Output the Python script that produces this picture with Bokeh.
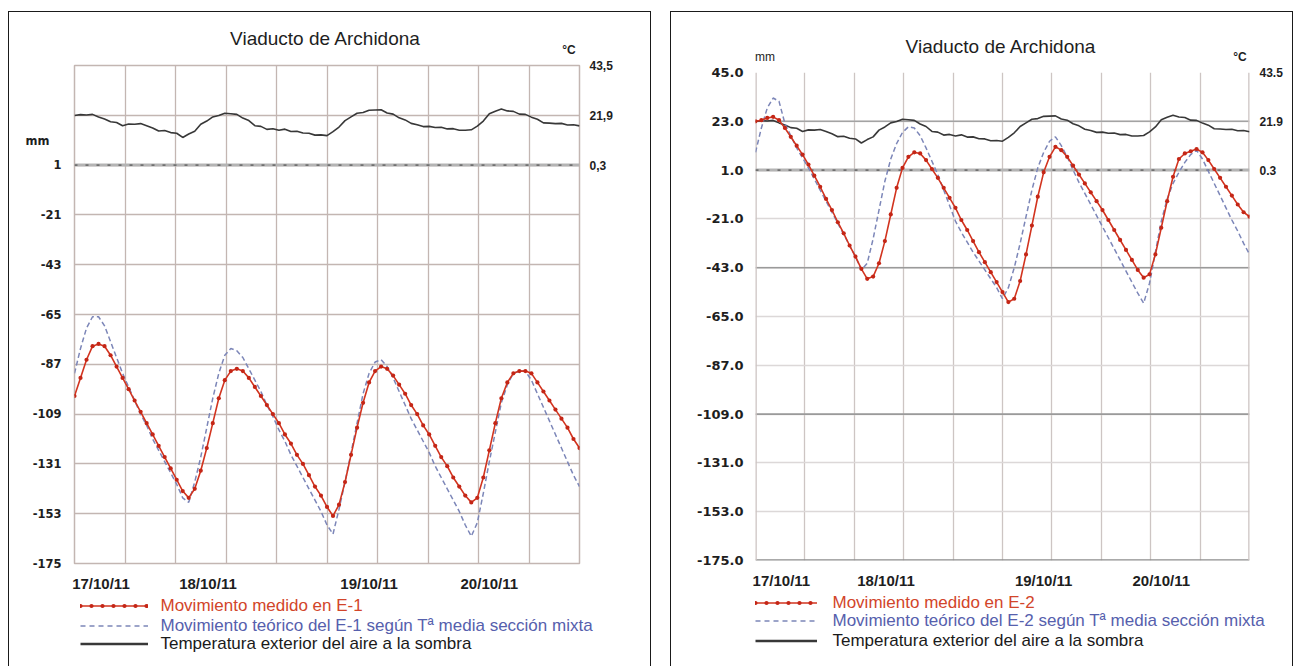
from bokeh.plotting import figure
from bokeh.models import (Range1d, LinearAxis, FixedTicker, CustomJSTickFormatter,
                          Span, Label, Legend, LegendItem, ColumnDataSource, Spacer)
from bokeh.layouts import row, column
from bokeh.embed import file_html
from bokeh.resources import INLINE

# ---- data: hourly readings, 17/10/11 00h onwards -------------------------
hours = list(range(85))

# outside air temperature in the shade (degC)
temp_air = [21.8, 22.2, 22.0, 22.3, 21.2, 20.3, 19.1, 18.8, 17.4, 18.1,
            18.0, 18.3, 17.4, 16.4, 15.1, 15.3, 14.4, 14.1, 12.3, 13.8,
            15.0, 18.0, 19.4, 21.2, 21.8, 22.8, 22.6, 22.3, 20.7, 19.6,
            17.4, 17.1, 15.8, 16.1, 15.4, 15.9, 14.9, 15.0, 14.2, 14.1,
            13.3, 13.4, 13.1, 14.8, 16.8, 19.6, 21.2, 22.8, 23.1, 24.1,
            24.2, 24.3, 22.9, 22.4, 20.8, 19.9, 18.4, 17.8, 17.0, 17.1,
            16.6, 16.7, 16.0, 16.1, 15.4, 15.4, 15.6, 17.2, 19.4, 22.6,
            23.7, 24.6, 23.8, 23.6, 22.4, 22.3, 21.1, 20.2, 18.6, 18.5,
            18.3, 18.4, 17.7, 17.8, 17.3]

# joint E-1 (mm)
e1_measured = [-101, -93, -85, -79, -78, -79, -83, -88, -93, -98,
               -103, -108, -113, -118, -123, -128, -133, -138, -143, -146,
               -142, -134, -124, -113, -102, -94, -90, -89, -90, -93,
               -97, -101, -105, -109, -113, -118, -122, -127, -131, -136,
               -141, -145, -150, -154, -149, -139, -127, -115, -104, -95,
               -90, -88, -89, -92, -96, -100, -105, -109, -114, -118,
               -123, -128, -132, -137, -141, -145, -148, -146, -137, -125,
               -113, -102, -95, -91, -90, -90, -91, -95, -99, -103,
               -107, -111, -115, -120, -124]
e1_theoretical = [-91, -80, -71, -66, -66, -70, -77, -84, -91, -97,
                  -103, -109, -114, -120, -125, -130, -135, -140, -146, -148,
                  -139, -128, -115, -102, -91, -83, -80, -81, -84, -89,
                  -94, -99, -105, -110, -116, -121, -127, -132, -137, -142,
                  -147, -152, -158, -162, -151, -139, -126, -113, -100, -91,
                  -86, -85, -88, -93, -99, -105, -111, -116, -121, -126,
                  -132, -137, -142, -147, -152, -158, -163, -157, -144, -130,
                  -117, -104, -96, -91, -90, -90, -94, -100, -106, -112,
                  -118, -124, -130, -136, -141]

# joint E-2 (mm)
e2_measured = [23, 23.5, 24.5, 25, 23.5, 20, 16, 12, 8, 3.5,
               -1.5, -6.5, -12, -17, -22.5, -27.5, -33, -38, -43.5, -48,
               -47, -41, -31, -19, -7, 2, 7, 9, 8.5, 5.5,
               1.5, -2.5, -7, -11.5, -16, -21.5, -26, -31, -36, -40.5,
               -45, -49.5, -54, -58.5, -57, -49, -37, -24, -11, 0,
               7, 11.5, 10, 7, 3, -1, -5, -9, -13, -17,
               -21.5, -26, -30.5, -35, -39.5, -44, -47.5, -46, -37, -25,
               -13, -2, 6, 8.5, 9.5, 10.5, 9, 5.5, 1.5, -2.5,
               -6.5, -10.5, -14.5, -18, -20]
e2_theoretical = [9, 20, 29, 33.5, 32, 22, 16.5, 11, 6.5, 2,
                  -3, -8, -13, -18, -23, -28, -33, -38, -44, -41,
                  -30, -17, -4, 6, 13, 18, 20.5, 20, 16.5, 11,
                  5, -1, -8, -15, -22, -27, -31.5, -36, -40, -44,
                  -48, -52, -57, -52, -43, -32, -20, -8, 2, 9,
                  14, 16, 12, 7, 1, -4.5, -9.5, -14.5, -19.5, -24.5,
                  -29.5, -34.5, -39.5, -44.5, -49.5, -54.5, -59, -50, -36, -22,
                  -12, -5, 0, 4.5, 8, 10, 6, 0.5, -5, -10.5,
                  -16, -21.5, -26.5, -32, -37]

# ---- axes --------------------------------------------------------------
mm_ticks = [45, 23, 1, -21, -43, -65, -87, -109, -131, -153, -175]
temp_ticks = [43.5, 21.9, 0.3]
time_grid = [0, 8.4, 16.8, 25.2, 33.6, 42, 50.4, 58.8, 67.2, 75.6, 84]
date_ticks = [4.4, 22.2, 49.0, 69.0]
date_labels = ["17/10/11", "18/10/11", "19/10/11", "20/10/11"]

RED = "#d2341f"
RED_DOT = "#c42616"
BLUE = "#7c86b8"
DARK = "#383838"
TXT = "#1e1e1e"
EDGE = "1.5px solid #1a1a1a"


def style_axis(ax, size, font="Liberation Sans", standoff=5):
    ax.axis_line_color = None
    ax.major_tick_line_color = None
    ax.minor_tick_line_color = None
    ax.major_label_text_font = font
    ax.major_label_text_font_size = f"{size}px"
    ax.major_label_text_font_style = "bold"
    ax.major_label_text_color = TXT
    ax.major_label_standoff = standoff


def blank_figure(width, height, top_edge):
    f = figure(width=width, height=height, x_range=Range1d(0, 1),
               y_range=Range1d(0, 1), x_axis_type=None, y_axis_type=None,
               output_backend="svg", toolbar_location=None,
               min_border=0, min_border_left=0, min_border_right=0,
               min_border_top=0, min_border_bottom=0)
    f.grid.visible = False
    f.outline_line_color = None
    f.border_fill_color = "white"
    styles = {"border-left": EDGE, "border-right": EDGE}
    if top_edge:
        styles["border-top"] = EDGE
    f.styles = styles
    return f


def caption(f, x, y, s, size, bold=False):
    f.add_layout(Label(x=x, y=y, x_units="screen", y_units="screen", text=s,
                       text_font="Liberation Sans", text_font_size=f"{size}px",
                       text_font_style="bold" if bold else "normal",
                       text_color=TXT, text_align="center",
                       text_baseline="middle"))


def chart(measured, theoretical, cfg):
    p = figure(width=cfg["width"], height=cfg["chart_h"],
               x_range=Range1d(0, 84), y_range=Range1d(-175, 45),
               output_backend="svg", toolbar_location=None,
               min_border_left=cfg["left"], min_border_right=cfg["right"],
               min_border_top=8, min_border_bottom=cfg["chart_h"] - 8 - cfg["frame_h"])
    p.extra_y_ranges = {"temp": Range1d(-172.5, 43.5)}
    p.outline_line_color = cfg["outline"]
    p.outline_line_width = 1.5
    p.border_fill_color = "white"
    p.styles = {"border-left": EDGE, "border-right": EDGE}

    # grid
    p.xgrid.ticker = FixedTicker(ticks=time_grid)
    p.ygrid.ticker = FixedTicker(ticks=cfg["grid_rows"])
    for g in (p.xgrid[0], p.ygrid[0]):
        g.grid_line_color = cfg["grid_color"]
        g.grid_line_width = 1.3
    p.ygrid[0].grid_line_color = cfg["hgrid_color"]

    for loc, col, w in cfg["strong_rows"]:
        p.add_layout(Span(location=loc, dimension="width", line_color=col,
                          line_width=w, level="underlay"))
    for loc in cfg["edge_cols"]:
        p.add_layout(Span(location=loc, dimension="height",
                          line_color=cfg["grid_color"], line_width=2.6,
                          level="underlay"))
    p.add_layout(Span(location=1, dimension="width", line_color="#b4b4b4",
                      line_width=3, level="underlay"))
    p.add_layout(Span(location=1, dimension="width", line_color="#707070",
                      line_width=1.6, line_dash="3 8", level="underlay"))

    # left axis (mm); the left panel also carries the unit caption
    ya = p.yaxis[0]
    ya.ticker = FixedTicker(ticks=cfg["mm_labels"])
    ya.formatter = CustomJSTickFormatter(
        args=dict(dec=cfg["mm_decimals"], cap=cfg["mm_caption"]),
        code="if (cap.length && Math.abs(tick - cap[0]) < 1e-6) return cap[1];"
             " return tick.toFixed(dec);")
    style_axis(ya, cfg["ytick_size"], font="DejaVu Sans", standoff=cfg["ystand"])

    # right axis (degC)
    ta = LinearAxis(y_range_name="temp", ticker=FixedTicker(ticks=temp_ticks),
                    formatter=CustomJSTickFormatter(
                        args=dict(sep=cfg["sep"]),
                        code="return tick.toFixed(1).replace('.', sep);"))
    style_axis(ta, 12, standoff=4)
    p.add_layout(ta, "right")

    # dates
    xa = p.xaxis[0]
    xa.ticker = FixedTicker(ticks=date_ticks)
    xa.formatter = CustomJSTickFormatter(
        args=dict(positions=date_ticks, names=date_labels),
        code="const i = positions.indexOf(tick); return i >= 0 ? names[i] : '';")
    style_axis(xa, 15, standoff=5)

    # series
    src = ColumnDataSource(dict(h=hours, t=temp_air, m=measured, th=theoretical))
    p.line("h", "t", source=src, y_range_name="temp", line_color=DARK,
           line_width=1.6)
    p.line("h", "th", source=src, line_color=BLUE, line_width=1.5,
           line_dash="5 3")
    p.line("h", "m", source=src, line_color=RED, line_width=1.6)
    p.scatter("h", "m", source=src, size=4.2, fill_color=RED_DOT,
              line_color=None)
    return p


def key(joint, cfg):
    f = blank_figure(cfg["width"], cfg["key_h"], False)
    # sample renderers for the key; their points lie outside the visible range
    off = dict(x=[5, 6], y=[5, 6])
    meas = f.line(line_color=RED, line_width=1.6, **off)
    dots = f.line(line_color=RED_DOT, line_width=4.2, line_dash="0 11",
                  line_cap="round", **off)
    theo = f.line(line_color=BLUE, line_width=1.6, line_dash="5 4", **off)
    temp = f.line(line_color=DARK, line_width=2.6, **off)
    entries = [([meas, dots], f"Movimiento medido en {joint}", "#d2452a"),
               ([theo], f"Movimiento teórico del {joint} según Tª media sección mixta",
                "#5660ad"),
               ([temp], "Temperatura exterior del aire a la sombra", "#1a1a1a")]
    for (rs, label, color), yc in zip(entries, cfg["key_rows"]):
        f.add_layout(Legend(items=[LegendItem(label=label, renderers=rs)],
                            location=(cfg["key_x"], yc - 9.5), padding=0,
                            margin=0, spacing=0, glyph_width=cfg["key_w"],
                            glyph_height=19, label_height=19,
                            label_standoff=cfg["key_standoff"],
                            label_text_font="Liberation Sans",
                            label_text_font_size="17px",
                            label_text_color=color, border_line_color=None,
                            background_fill_alpha=0))
    return f


def panel(measured, theoretical, joint, cfg):
    head = blank_figure(cfg["width"], cfg["head_h"], True)
    caption(head, cfg["title_x"], cfg["title_y"], "Viaducto de Archidona", 19)
    for x, y, s, size, bold in cfg["captions"]:
        caption(head, x, y, s, size, bold)
    body = chart(measured, theoretical, cfg)
    foot = key(joint, cfg)
    return column(column(head), column(body), column(foot))


left_cfg = dict(width=643, head_h=46, chart_h=537, key_h=72,
                left=65, right=73, frame_h=503,
                grid_rows=mm_ticks, grid_color="#c3b6b2", hgrid_color="#c3b6b2",
                outline="#c3b6b2", edge_cols=[], strong_rows=[],
                mm_labels=mm_ticks[2:] + [11.5], mm_decimals=0,
                mm_caption=[11.5, "mm\u00a0\u00a0\u00a0"],
                sep=",", ytick_size=11.5, ystand=7,
                title_x=316, title_y=20,
                captions=[(559.5, 9, "°C", 12, True)],
                key_x=70.5, key_w=68, key_standoff=13, key_rows=[60, 40, 22])
right_cfg = dict(width=623, head_h=53, chart_h=527, key_h=75,
                 left=84, right=45, frame_h=493,
                 grid_rows=mm_ticks[1:], grid_color="#cdc5c3", hgrid_color="#dcd8d8",
                 outline=None, edge_cols=[0, 84],
                 strong_rows=[(23, "#a3a3a3", 1.5), (-43, "#9a9a9a", 1.6),
                              (-109, "#9a9a9a", 1.6), (-175, "#8e8e8e", 2.6)],
                 mm_labels=mm_ticks, mm_decimals=1, mm_caption=[],
                 sep=".", ytick_size=13, ystand=6,
                 title_x=329.5, title_y=19,
                 captions=[(93.5, 9, "mm", 12, False), (568.5, 9, "°C", 12, True)],
                 key_x=83.5, key_w=62, key_standoff=16, key_rows=[63, 45, 25])

p1 = panel(e1_measured, e1_theoretical, "E-1", left_cfg)
p2 = panel(e2_measured, e2_theoretical, "E-2", right_cfg)

layout = column(Spacer(height=11),
                row(Spacer(width=8), p1, Spacer(width=19), p2))

open("out.html", "w").write(file_html(layout, INLINE))
